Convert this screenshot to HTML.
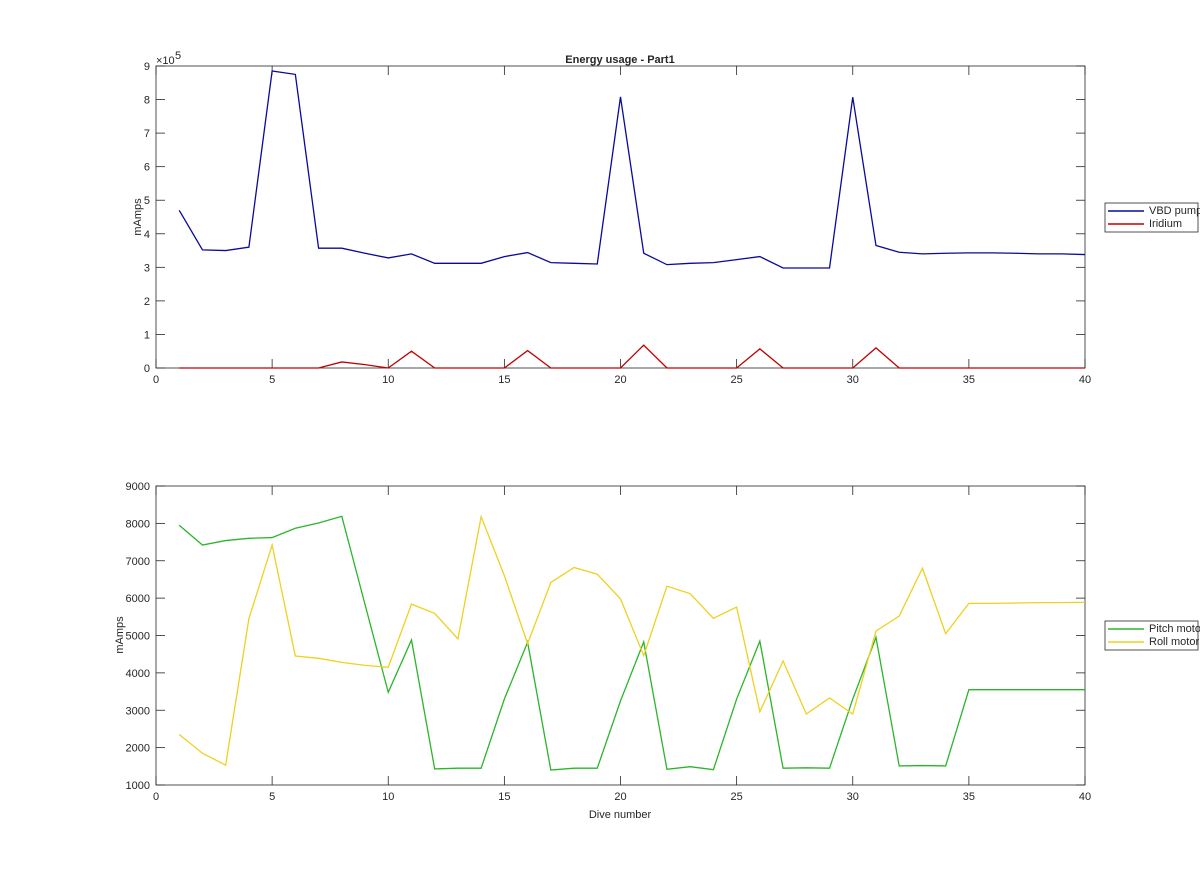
<!DOCTYPE html>
<html><head><meta charset="utf-8"><style>
body{margin:0;background:#fff;font-family:"Liberation Sans",sans-serif}
svg text{font-family:"Liberation Sans",sans-serif;font-size:11px;fill:#262626}
</style></head><body>
<svg id="c" width="1200" height="885" xmlns="http://www.w3.org/2000/svg"></svg>
<script>
const dives=[];for(let i=1;i<=40;i++)dives.push(i);
const vbdPump=[4.7,3.52,3.5,3.6,8.85,8.75,3.57,3.57,3.42,3.28,3.4,3.12,3.12,3.12,3.32,3.44,3.14,3.12,3.1,8.08,3.42,3.08,3.12,3.14,3.23,3.32,2.98,2.98,2.98,8.07,3.65,3.45,3.4,3.42,3.43,3.43,3.42,3.4,3.4,3.38];
const iridium=[0,0,0,0,0,0,0,0.18,0.1,0,0.5,0,0,0,0,0.52,0,0,0,0,0.68,0,0,0,0,0.57,0,0,0,0,0.6,0,0,0,0,0,0,0,0,0];
const pitchMotor=[7950,7420,7540,7600,7620,7870,8010,8190,5830,3480,4880,1430,1450,1450,3300,4820,1400,1450,1450,3250,4830,1420,1490,1410,3300,4850,1450,1460,1450,3300,4950,1510,1520,1510,3550,3550,3550,3550,3550,3550];
const rollMotor=[2350,1850,1530,5450,7420,4450,4390,4280,4200,4150,5840,5590,4910,8180,6600,4780,6420,6820,6640,5980,4460,6320,6120,5460,5760,2960,4320,2900,3330,2900,5120,5520,6800,5050,5860,5860,5870,5880,5880,5890];
const xTicks=[0,5,10,15,20,25,30,35,40];
const yTicksTop=[0,1,2,3,4,5,6,7,8,9];
const yTicksBot=[1000,2000,3000,4000,5000,6000,7000,8000,9000];
const svg=document.getElementById('c');const NS='http://www.w3.org/2000/svg';
function el(t,a,p){const e=document.createElementNS(NS,t);for(const k in a)e.setAttribute(k,a[k]);(p||svg).appendChild(e);return e;}
function txt(x,y,s,anchor,extra){const t=el('text',Object.assign({x:x,y:y,'text-anchor':anchor||'middle'},extra||{}));t.textContent=s;return t;}
function panel(name,top,bot,ymin,ymax,yticks,series,legendY){
  const L=156,R=1085;
  const sx=v=>L+(v-0)/(40-0)*(R-L), sy=v=>bot-(v-ymin)/(ymax-ymin)*(bot-top);
  const g=el('g',{});
  el('rect',{x:L,y:top,width:R-L,height:bot-top,fill:'#fff',stroke:'#262626','stroke-width':0.8},g);
  xTicks.forEach(v=>{const x=sx(v);el('line',{x1:x,x2:x,y1:bot,y2:bot-9,stroke:'#262626','stroke-width':0.8},g);el('line',{x1:x,x2:x,y1:top,y2:top+9,stroke:'#262626','stroke-width':0.8},g);const t=txt(x,bot+15,String(v));});
  yticks.forEach((v,i)=>{const y=sy(v);el('line',{x1:L,x2:L+9,y1:y,y2:y,stroke:'#262626','stroke-width':0.8},g);el('line',{x1:R,x2:R-9,y1:y,y2:y,stroke:'#262626','stroke-width':0.8},g);const t=txt(L-6,y+4,String(v),'end');});
  series.forEach(s=>{const p=el('polyline',{points:s.data.map((v,i)=>sx(dives[i])+','+sy(v)).join(' '),fill:'none',stroke:s.color,'stroke-width':1.3},g);});
  const lg=el('g',{});
  el('rect',{x:1105,y:legendY,width:93,height:29,fill:'#fff',stroke:'#262626','stroke-width':0.8},lg);
  series.forEach((s,i)=>{const y=legendY+8+i*13;el('line',{x1:1108,x2:1144,y1:y,y2:y,stroke:s.color,'stroke-width':1.5},lg);const t=txt(1149,y+3,s.label,'start',{'font-size':'8.5px'});});
  return g;
}
panel('top-axes',66,368,0,9,yTicksTop,[{key:'vbd-pump',label:'VBD pump',data:vbdPump,color:'#0a0a9a'},{key:'iridium',label:'Iridium',data:iridium,color:'#c00000'}],203);
panel('bottom-axes',486,785,1000,9000,yTicksBot,[{key:'pitch-motor',label:'Pitch motor',data:pitchMotor,color:'#2bb52b'},{key:'roll-motor',label:'Roll motor',data:rollMotor,color:'#f0d020'}],621);
let t=txt(620,63,'Energy usage - Part1','middle',{'font-weight':'bold','font-size':'10.5px'});
t=txt(156,64,'×10','start',{'font-size':'10px'});
t=txt(175,59,'5','start',{'font-size':'7px'});
t=txt(0,0,'mAmps','middle',{transform:'translate(141,217) rotate(-90)'});
t=txt(0,0,'mAmps','middle',{transform:'translate(123,635) rotate(-90)'});
t=txt(620,818,'Dive number');
</script>
</body></html>
